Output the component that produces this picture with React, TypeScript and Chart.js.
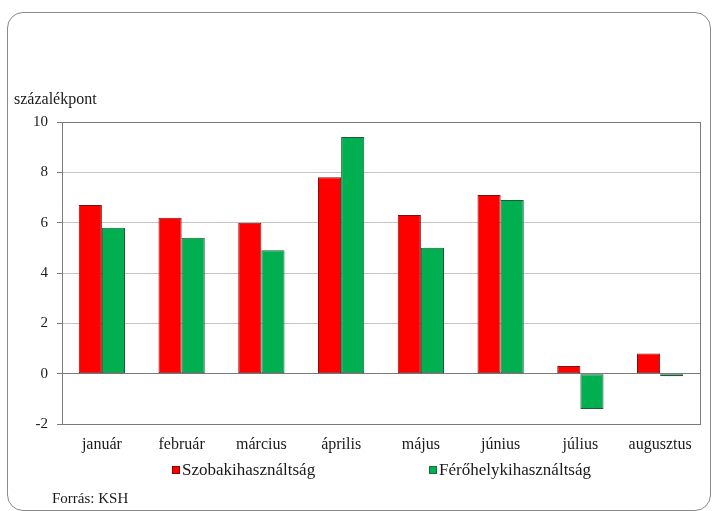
import React, { useEffect, useRef } from "react";
import { Chart, registerables } from "chart.js";

Chart.register(...registerables);

const categories = ["január", "február", "március", "április", "május", "június", "július", "augusztus"];
const seriesNames = ["Szobakihasználtság", "Férőhelykihasználtság"];
const roomValues = [6.7, 6.2, 6.0, 7.8, 6.3, 7.1, 0.3, 0.8];
const bedValues = [5.8, 5.4, 4.9, 9.4, 5.0, 6.9, -1.4, -0.1];
const yAxisTitle = "százalékpont";
const sourceText = "Forrás: KSH";

const FONT = "'Liberation Serif', 'Times New Roman', serif";
const RED = "#ff0000";
const GREEN = "#00b050";
const TEXT = "#1a1a1a";

const extras = {
  id: "extras",
  afterDraw(chart: any) {
    const { ctx, chartArea } = chart;
    ctx.save();
    ctx.strokeStyle = "#7a7a7a";
    ctx.lineWidth = 1;
    ctx.strokeRect(
      Math.round(chartArea.left) + 0.5,
      Math.round(chartArea.top) + 0.5,
      Math.round(chartArea.right - chartArea.left),
      Math.round(chartArea.bottom - chartArea.top)
    );
    ctx.fillStyle = TEXT;
    ctx.textBaseline = "middle";
    ctx.textAlign = "left";
    ctx.font = `16px ${FONT}`;
    ctx.fillText(yAxisTitle, 14, 100);
    // legend
    const items = [
      { x: 172, color: RED, border: "#8b0000", label: seriesNames[0] },
      { x: 429, color: GREEN, border: "#1d6b3a", label: seriesNames[1] },
    ];
    ctx.font = `17px ${FONT}`;
    items.forEach((it) => {
      ctx.fillStyle = it.color;
      ctx.fillRect(it.x, 466, 8, 8);
      ctx.strokeStyle = it.border;
      ctx.strokeRect(it.x + 0.5, 466.5, 7, 7);
      ctx.fillStyle = TEXT;
      ctx.fillText(it.label, it.x + 10, 471);
    });
    ctx.font = `15px ${FONT}`;
    ctx.fillText(sourceText, 52, 499);
    ctx.restore();
  },
};

export default function App() {
  const ref = useRef<HTMLCanvasElement | null>(null);
  useEffect(() => {
    if (!ref.current) return;
    const chart = new Chart(ref.current, {
      type: "bar",
      data: {
        labels: categories,
        datasets: [
          {
            label: seriesNames[0],
            data: roomValues,
            backgroundColor: RED,
            borderColor: "#7a1010",
            borderWidth: 1,
            borderSkipped: false,
            categoryPercentage: 0.58,
            barPercentage: 1,
          },
          {
            label: seriesNames[1],
            data: bedValues,
            backgroundColor: GREEN,
            borderColor: "#1d5a34",
            borderWidth: 1,
            borderSkipped: false,
            categoryPercentage: 0.58,
            barPercentage: 1,
          },
        ],
      },
      options: {
        animation: false,
        responsive: false,
        maintainAspectRatio: false,
        layout: { padding: { top: 122, right: 17, bottom: 45, left: 0 } },
        plugins: {
          legend: { display: false },
          tooltip: { enabled: false },
        },
        scales: {
          x: {
            grid: { display: false },
            border: { display: true, color: "#7a7a7a" },
            ticks: { color: TEXT, font: { family: FONT, size: 16 }, padding: 3, maxRotation: 0 },
            afterFit: (s: any) => {
              s.height = 42;
            },
          },
          y: {
            min: -2,
            max: 10,
            ticks: { stepSize: 2, color: TEXT, font: { family: FONT, size: 15 }, padding: 9 },
            grid: {
              color: (c: any) => (c.tick && (c.tick.value === 0 || c.tick.value === 10 || c.tick.value === -2) ? "#7a7a7a" : "#c4c4c4"),
              tickColor: "#7a7a7a",
              tickLength: 5,
            },
            border: { display: true, color: "#7a7a7a" },
            afterFit: (s: any) => {
              s.width = 62;
            },
          },
        },
      },
      plugins: [extras],
    });
    return () => chart.destroy();
  }, []);
  return (
    <div style={{ position: "fixed", left: 0, top: 0, width: 717, height: 511, overflow: "hidden", background: "#fff" }}>
      <div
        style={{
          position: "absolute",
          left: 7,
          top: 12,
          width: 704,
          height: 499,
          border: "1px solid #8a8a8a",
          borderRadius: 16,
          boxSizing: "border-box",
        }}
      />
      <canvas ref={ref} width={717} height={511} style={{ position: "absolute", left: 0, top: 0 }} />
    </div>
  );
}
